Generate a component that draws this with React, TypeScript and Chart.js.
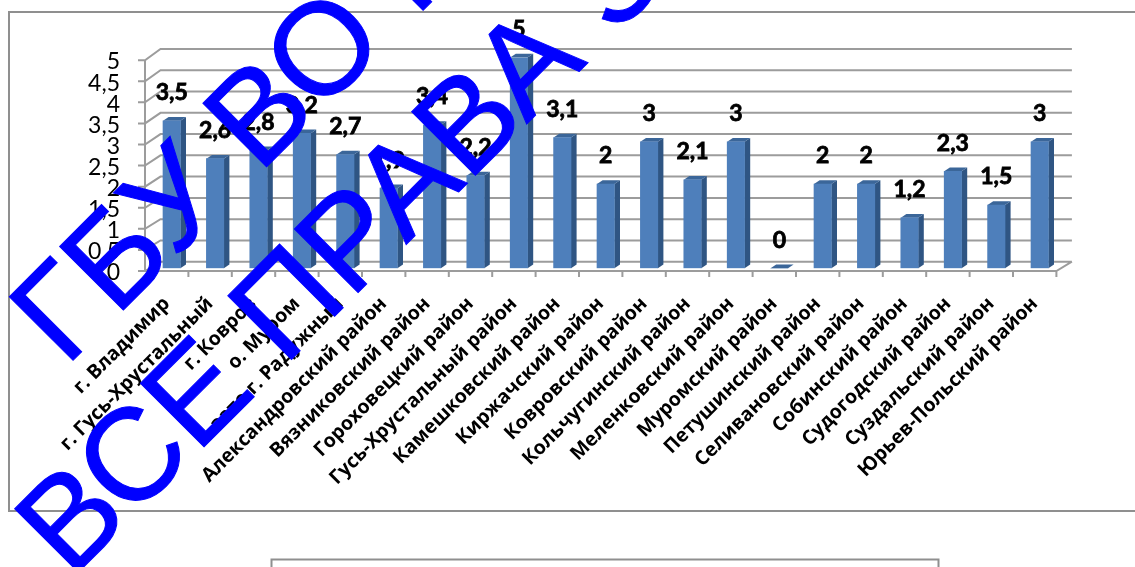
import React, { useEffect, useRef } from "react";
import { Chart, registerables } from "chart.js";

Chart.register(...registerables);

const categories = [
  "г. Владимир", "г. Гусь-Хрустальный", "г. Ковров", "о. Муром", "зато г. Радужный",
  "Александровский район", "Вязниковский район", "Гороховецкий район", "Гусь-Хрустальный район",
  "Камешковский район", "Киржачский район", "Ковровский район", "Кольчугинский район",
  "Меленковский район", "Муромский район", "Петушинский район", "Селивановский район",
  "Собинский район", "Судогодский район", "Суздальский район", "Юрьев-Польский район",
];
const values = [3.5, 2.6, 2.8, 3.2, 2.7, 1.9, 3.4, 2.2, 5, 3.1, 2, 3, 2.1, 3, 0, 2, 2, 1.2, 2.3, 1.5, 3];
const gridValues = [0, 0.5, 1, 1.5, 2, 2.5, 3, 3.5, 4, 4.5, 5];
const watermarkLines = ["ГБУ ВО Р", "ВСЕ ПРАВА З"];

const comma = (v: number) => String(v).replace(".", ",");

const scene = {
  id: "scene",
  beforeDatasetsDraw(chart: any) {
    const { ctx, chartArea, scales } = chart;
    const y = scales.y;
    const x = scales.x;
    const left = chartArea.left - 5;
    const right = chartArea.right - 5;
    const backOff = 15.5;
    const front = (v: number) => y.getPixelForValue(v) + 2.7;
    const back = (v: number) => y.getPixelForValue(v) - 6.6 - 0.38 * v;
    ctx.save();
    ctx.strokeStyle = "#9c9c9c";
    ctx.lineWidth = 2;
    ctx.beginPath();
    gridValues.forEach((v) => {
      ctx.moveTo(left - 7, front(v));
      ctx.lineTo(left, front(v));
      ctx.lineTo(left + backOff, back(v));
      ctx.lineTo(right + backOff, back(v));
    });
    ctx.moveTo(left, front(5));
    ctx.lineTo(left, front(0));
    ctx.lineTo(right, front(0));
    ctx.lineTo(right + backOff, back(0));
    categories.forEach((_, i) => {
      const tx = x.getPixelForValue(i) + x.getPixelForValue(1) / 2 - x.getPixelForValue(0) / 2 - 5;
      ctx.moveTo(tx, front(0));
      ctx.lineTo(tx, front(0) + 6);
    });
    ctx.stroke();

    const meta = chart.getDatasetMeta(0);
    const dx = 5.6;
    const dy = 3.8;
    meta.data.forEach((bar: any) => {
      const l = bar.x - bar.width / 2;
      const r = bar.x + bar.width / 2;
      ctx.fillStyle = "#2f5583";
      if (bar.base - bar.y > 0.5) {
        ctx.beginPath();
        ctx.moveTo(r, bar.y);
        ctx.lineTo(r + dx, bar.y - dy);
        ctx.lineTo(r + dx, bar.base - dy);
        ctx.lineTo(r, bar.base);
        ctx.closePath();
        ctx.fill();
      }
      ctx.fillStyle = "#3b6699";
      ctx.beginPath();
      ctx.moveTo(l, bar.y);
      ctx.lineTo(l + dx, bar.y - dy);
      ctx.lineTo(r + dx, bar.y - dy);
      ctx.lineTo(r, bar.y);
      ctx.closePath();
      ctx.fill();
    });
    ctx.restore();
  },
  afterDatasetsDraw(chart: any) {
    const { ctx } = chart;
    ctx.save();
    ctx.fillStyle = "#000";
    ctx.strokeStyle = "#000";
    ctx.lineWidth = 0.8;
    ctx.font = 'bold 23px "Lato"';
    ctx.textAlign = "center";
    ctx.textBaseline = "middle";
    chart.getDatasetMeta(0).data.forEach((bar: any, i: number) => {
      ctx.fillText(comma(values[i]), bar.x, bar.y - 28);
      ctx.strokeText(comma(values[i]), bar.x, bar.y - 28);
    });
    ctx.restore();
  },
  afterDraw(chart: any) {
    const { ctx } = chart;
    ctx.save();
    ctx.strokeStyle = "#8f8f8f";
    ctx.lineWidth = 2;
    ctx.strokeRect(9, 12, 1300, 499);
    ctx.strokeRect(271.5, 559.5, 667, 60);
    ctx.fillStyle = "#0000ff";
    ctx.strokeStyle = "#0000ff";
    ctx.lineWidth = 1;
    ctx.font = '131px "Liberation Sans"';
    ctx.textAlign = "left";
    ctx.textBaseline = "alphabetic";
    const pens = [[65.6, 368], [70.8, 580]];
    watermarkLines.forEach((t, i) => {
      ctx.save();
      ctx.translate(pens[i][0], pens[i][1]);
      ctx.rotate(-Math.PI / 4);
      ctx.fillText(t, 0, 0);
      ctx.strokeText(t, 0, 0);
      ctx.restore();
    });
    ctx.restore();
  },
};

export default function App() {
  const ref = useRef<HTMLCanvasElement>(null);
  useEffect(() => {
    const chart = new Chart(ref.current!, {
      type: "bar",
      data: {
        labels: categories,
        datasets: [{ data: values, backgroundColor: "#4e7fbb", barThickness: 17.4, borderWidth: 0 }],
      },
      options: {
        responsive: false,
        animation: false,
        layout: { padding: { left: 0, right: 73.6, top: 57.5, bottom: 0 } },
        plugins: { legend: { display: false }, tooltip: { enabled: false }, title: { display: false } },
        scales: {
          x: {
            afterFit: (s: any) => { s.height = 567 - 268.3 - 0; },
            grid: { display: false, drawTicks: false },
            border: { display: false },
            ticks: {
              autoSkip: false, minRotation: 45, maxRotation: 45, padding: 24, labelOffset: -5, color: "#000",
              font: { family: '"Open Sans"', weight: "bold", size: 19.5 },
            },
          },
          y: {
            min: 0, max: 5,
            afterFit: (s: any) => { s.width = 150; },
            grid: { display: false, drawTicks: false },
            border: { display: false },
            ticks: {
              stepSize: 0.5, autoSkip: false, padding: 30, labelOffset: 4.5, color: "#000",
              font: { family: '"Lato"', size: 23 },
              callback: (v: any) => comma(Number(v)),
            },
          },
        },
      },
      plugins: [scene],
    } as any);
    return () => chart.destroy();
  }, []);
  return <canvas ref={ref} width={1135} height={567} style={{ position: "absolute", left: 0, top: 0 }} />;
}
